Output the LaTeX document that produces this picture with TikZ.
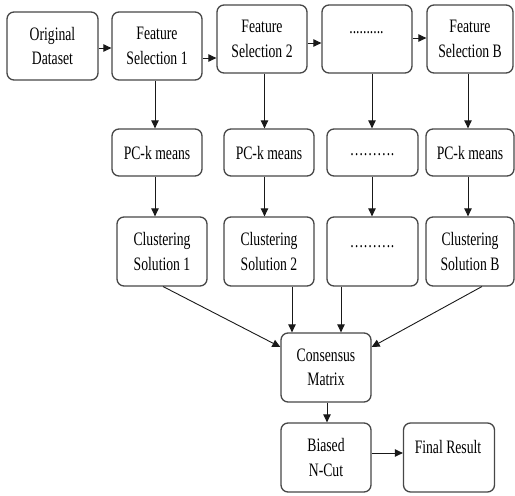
\documentclass[tikz,border=0pt]{standalone}
\usepackage{fontspec}
\setmainfont[FakeStretch=0.72]{Liberation Serif}
\usetikzlibrary{arrows.meta}
\tikzset{
  box/.style={draw=black!72, line width=1.3pt, rounded corners=7pt, align=center, inner sep=0pt,
    font=\fontsize{19}{24.5}\selectfont},
  lbl/.style={font=\fontsize{19}{24.5}\selectfont, inner sep=0pt, anchor=base},
  arr/.style={draw=black!90, line width=0.9pt, -{Triangle[length=8pt,width=7.5pt]}},
}
\begin{document}
\begin{tikzpicture}[x=1pt,y=-1pt]
\useasboundingbox (0,0) rectangle (515,496);
% top row
\node[box, minimum width=91pt, minimum height=68pt] (orig) at (52.5,46) {Original\\Dataset};
\node[box, minimum width=90pt, minimum height=68pt] (fs1) at (157,46) {Feature\\Selection 1};
\node[box, minimum width=90pt, minimum height=68pt] (fs2) at (262,39) {Feature\\Selection 2};
\node[box, minimum width=90pt, minimum height=68pt] (fsd) at (367,39) {};
\node[lbl] (fsdt) at (366.5,33.5) {..........};
\node[box, minimum width=86pt, minimum height=68pt] (fsb) at (470,39) {Feature\\Selection B};
% PC-k means row
\node[box, minimum width=90pt, minimum height=47pt] (pc1) at (157,152.5) {PC-k means};
\node[box, minimum width=90pt, minimum height=47pt] (pc2) at (269,152.5) {PC-k means};
\node[box, minimum width=91pt, minimum height=47pt] (pc3) at (372.5,152.5) {};
\node[lbl] (pc3t) at (372,155.5) {……….};
\node[box, minimum width=88pt, minimum height=47pt] (pc4) at (470,152.5) {PC-k means};
% clustering row
\node[box, minimum width=90pt, minimum height=69pt] (cs1) at (162,251.5) {Clustering\\Solution 1};
\node[box, minimum width=90pt, minimum height=69pt] (cs2) at (269,251.5) {Clustering\\Solution 2};
\node[box, minimum width=91pt, minimum height=69pt] (cs3) at (372.5,251.5) {};
\node[lbl] (cs3t) at (372,247.5) {……….};
\node[box, minimum width=88pt, minimum height=69pt] (cs4) at (470,251.5) {Clustering\\Solution B};
% bottom
\node[box, minimum width=90pt, minimum height=69pt] (cons) at (326,367.5) {Consensus\\Matrix};
\node[box, minimum width=90pt, minimum height=69pt] (bias) at (326,457.5) {Biased\\N-Cut};
\node[box, minimum width=91pt, minimum height=69pt] (final) at (449,457.5) {};
\node[lbl] (finalt) at (448,453) {Final Result};
% helper coordinates
\coordinate (ya) at (0,48);
\coordinate (yb) at (0,58);
\coordinate (yc) at (0,43);
\coordinate (yd) at (0,38);
\coordinate (xa) at (155,0);
\coordinate (xb) at (264.5,0);
\coordinate (xc) at (372,0);
\coordinate (xd) at (468,0);
\coordinate (k1) at (163,286.5);
\coordinate (k4) at (482,286.5);
\coordinate (yk) at (0,347);
\coordinate (xk2) at (292,0);
\coordinate (xk3) at (341,0);
\coordinate (xm) at (327,0);
\coordinate (yf) at (0,453);
% top row arrows
\draw[arr] (orig.east |- ya) -- (fs1.west |- ya);
\draw[arr] (fs1.east |- yb) -- (fs2.west |- yb);
\draw[arr] (fs2.east |- yc) -- (fsd.west |- yc);
\draw[arr] (fsd.east |- yd) -- (fsb.west |- yd);
% down arrows
\draw[arr] (fs1.south -| xa) -- (pc1.north -| xa);
\draw[arr] (fs2.south -| xb) -- (pc2.north -| xb);
\draw[arr] (fsd.south -| xc) -- (pc3.north -| xc);
\draw[arr] (fsb.south -| xd) -- (pc4.north -| xd);
\draw[arr] (pc1.south -| xa) -- (cs1.north -| xa);
\draw[arr] (pc2.south -| xb) -- (cs2.north -| xb);
\draw[arr] (pc3.south -| xc) -- (cs3.north -| xc);
\draw[arr] (pc4.south -| xd) -- (cs4.north -| xd);
% into consensus
\draw[arr] (k1) -- (cons.west |- yk);
\draw[arr] (cs2.south -| xk2) -- (cons.north -| xk2);
\draw[arr] (cs3.south -| xk3) -- (cons.north -| xk3);
\draw[arr] (k4) -- (cons.east |- yk);
% bottom
\draw[arr] (cons.south -| xm) -- (bias.north -| xm);
\draw[arr] (bias.east |- yf) -- (final.west |- yf);
\end{tikzpicture}
\end{document}
